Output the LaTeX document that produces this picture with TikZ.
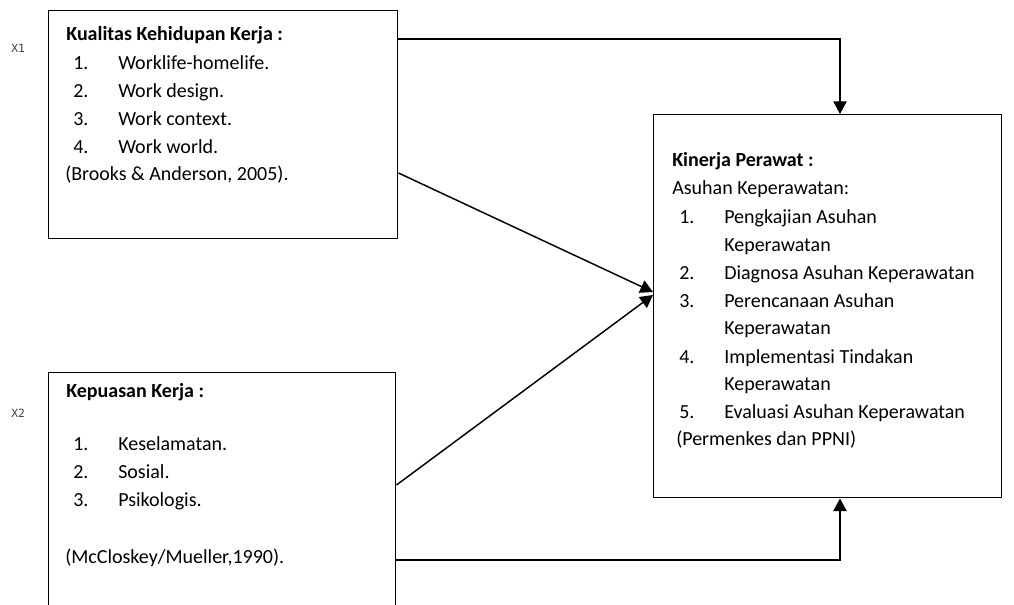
\documentclass[tikz,border=0pt]{standalone}
\usepackage{fontspec}
\setmainfont{Carlito}
\newfontfamily\xfont{DejaVu Sans Mono}
\usetikzlibrary{arrows.meta}
\tikzset{
  box/.style={draw=black, line width=1.1pt, anchor=north west, inner sep=0pt},
  txt/.style={anchor=base west, inner sep=0pt, font=\fontsize{15}{18}\selectfont},
  hd/.style={txt, font=\fontsize{15}{18}\selectfont\bfseries},
  xl/.style={anchor=base west, inner sep=0pt, font=\xfont\fontsize{8.5}{10}\selectfont, text=black!75},
  conn/.style={line width=1.1pt, -{Triangle[length=9.5pt,width=10pt]}},
}
\begin{document}
\begin{tikzpicture}[x=0.75pt,y=-0.75pt]
\useasboundingbox (0,0) rectangle (1014,605);
\clip (0,0) rectangle (1014,605);
% boxes
\node[box, minimum width=349*0.75pt, minimum height=228*0.75pt] (b1) at (48,10) {};
\node[box, minimum width=347*0.75pt, minimum height=260*0.75pt] (b2) at (48,372) {};
\node[box, minimum width=348*0.75pt, minimum height=383*0.75pt] (b3) at (653,114) {};
% labels
\node[xl] (x1) at (11,53) {X1};
\node[xl] (x2) at (11,418) {X2};
% box 1 text
\node[hd] (t1) at (66,41) {Kualitas Kehidupan Kerja :};
\node[txt] (n11) at (73,70) {1.};  \node[txt] (i11) at (118,70) {Worklife-homelife.};
\node[txt] (n12) at (73,98) {2.};  \node[txt] (i12) at (118,98) {Work design.};
\node[txt] (n13) at (73,126) {3.}; \node[txt] (i13) at (118,126) {Work context.};
\node[txt] (n14) at (73,154) {4.}; \node[txt] (i14) at (118,154) {Work world.};
\node[txt] (c1) at (65,181) {(Brooks \& Anderson, 2005).};
% box 2 text
\node[hd] (t2) at (66,398) {Kepuasan Kerja :};
\node[txt] (n21) at (73,451) {1.}; \node[txt] (i21) at (118,451) {Keselamatan.};
\node[txt] (n22) at (73,479) {2.}; \node[txt] (i22) at (118,479) {Sosial.};
\node[txt] (n23) at (73,507) {3.}; \node[txt] (i23) at (118,507) {Psikologis.};
\node[txt] (c2) at (65,564) {(McCloskey/Mueller,1990).};
% box 3 text
\node[hd] (t3) at (672,167) {Kinerja Perawat :};
\node[txt] (s3) at (672,195) {Asuhan Keperawatan:};
\node[txt] (n31) at (679,224) {1.}; \node[txt] (i31) at (724,224) {Pengkajian Asuhan};
\node[txt] (i31b) at (724,252) {Keperawatan};
\node[txt] (n32) at (679,280) {2.}; \node[txt] (i32) at (724,280) {Diagnosa Asuhan Keperawatan};
\node[txt] (n33) at (679,308) {3.}; \node[txt] (i33) at (724,308) {Perencanaan Asuhan};
\node[txt] (i33b) at (724,335) {Keperawatan};
\node[txt] (n34) at (679,364) {4.}; \node[txt] (i34) at (724,364) {Implementasi Tindakan};
\node[txt] (i34b) at (724,391) {Keperawatan};
\node[txt] (n35) at (679,419) {5.}; \node[txt] (i35) at (724,419) {Evaluasi Asuhan Keperawatan};
\node[txt] (c3) at (676,446) {(Permenkes dan PPNI)};
% connector anchor points
\coordinate (p1) at (b1.north east |- 0,39);
\coordinate (p2) at (b1.north east |- 0,173);
\coordinate (p3) at (b2.north east |- 0,485);
\coordinate (p4) at (b2.north east |- 0,560);
\coordinate (q1) at (b3.north west -| 840,0);
\coordinate (q2) at (b3.north west |- 0,292);
\coordinate (q3) at (b3.north west |- 0,295);
\coordinate (q4) at (b3.south west -| 840,0);
% connectors
\draw[conn] (p1) -| (q1);
\draw[conn] (p2) -- (q2);
\draw[conn] (p3) -- (q3);
\draw[conn] (p4) -| (q4);
\end{tikzpicture}
\end{document}
